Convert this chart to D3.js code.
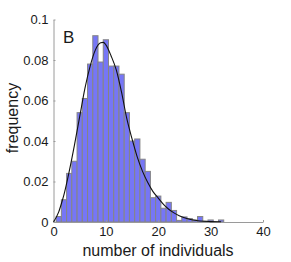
<!DOCTYPE html>
<html>
<head>
<meta charset="utf-8">
<script src="https://cdn.jsdelivr.net/npm/d3@7"></script>
<style>
  html, body { margin: 0; padding: 0; background: #fff; }
  svg text { font-family: "Liberation Sans", Arial, Helvetica, sans-serif; fill: #1a1a1a; }
</style>
</head>
<body>
<svg id="chart" width="291" height="262"></svg>
<script>
// histogram bins (centres) and frequencies
const binCenters = [1,2,3,4,5,6,7,8,9,10,11,12,13,14,15,16,17,18,19,20,21,22,23,24,25,26,27,28,29,30,31,32];
const frequencies = [0.0027,0.011,0.024,0.030,0.054,0.061,0.078,0.092,0.079,0.090,0.077,0.077,0.073,0.054,0.040,0.041,0.031,0.025,0.012,0.0128,0.0068,0.0097,0.0057,0.0008,0.0025,0.0017,0.001,0.0027,0.0004,0.001,0,0.001];
// fitted curve
const fitX = [0,1,1.5,2,3,4,5,6,7,8,9,9.5,10,11,12,13,14,15,16,17,18,19,20,21,22,23,24,25,26,27,28,30,32];
const fitY = [0,0.005,0.009,0.0135,0.025,0.038,0.052,0.066,0.077,0.085,0.0885,0.0887,0.0875,0.082,0.075,0.064,0.051,0.041,0.032,0.025,0.0195,0.015,0.0118,0.0087,0.0063,0.0045,0.0031,0.0021,0.0014,0.0009,0.0005,0.0002,0.0001];
const xTicks = [0,10,20,30,40];
const yTicks = [0,0.02,0.04,0.06,0.08,0.1];
const yTickLabels = ["0","0.02","0.04","0.06","0.08","0.1"];

const svg = d3.select("#chart");
const x = d3.scaleLinear().domain([0,40]).range([53.5,263]);
const y = d3.scaleLinear().domain([0,0.1]).range([222,19.5]);

// bars
const bins = binCenters.map((c,i)=>({c, v: frequencies[i]})).filter(d=>d.v>0);
svg.append("g").selectAll("rect").data(bins).join("rect")
  .attr("x", d=>x(d.c-0.5))
  .attr("width", d=>x(d.c+0.5)-x(d.c-0.5))
  .attr("y", d=>y(d.v))
  .attr("height", d=>y(0)-y(d.v))
  .attr("fill", "#7676f6")
  .attr("stroke", "#858585")
  .attr("stroke-width", 1);

// axes
const gx = svg.append("g").attr("transform", `translate(0,${y(0)})`)
  .call(d3.axisBottom(x).tickValues(xTicks).tickSizeInner(-2).tickSizeOuter(0).tickPadding(5).tickFormat(d3.format("d")));
const gy = svg.append("g").attr("transform", `translate(${x(0)},0)`)
  .call(d3.axisLeft(y).tickValues(yTicks).tickSizeInner(-2).tickSizeOuter(0).tickPadding(5).tickFormat((d,i)=>yTickLabels[i]));
[gx, gy].forEach(g=>{
  g.select(".domain").attr("stroke","#9a9a9a");
  g.selectAll(".tick line").attr("stroke","#9a9a9a");
  g.selectAll(".tick text").attr("font-size", 13).attr("fill","#1a1a1a")
    .style("font-family","'Liberation Sans', Arial, sans-serif");
});

// fitted curve
const pts = fitX.map((v,i)=>[v, fitY[i]]);
svg.append("path").datum(pts)
  .attr("fill","none").attr("stroke","#111").attr("stroke-width",1.1)
  .attr("d", d3.line().x(d=>x(d[0])).y(d=>y(d[1])).curve(d3.curveMonotoneX));

// panel letter
svg.append("text").attr("x", 63).attr("y", 42.5).attr("font-size", 17).text("B");

// axis titles
svg.append("text").attr("x", 158).attr("y", 256).attr("text-anchor","middle")
  .attr("font-size", 16).text("number of individuals");
svg.append("text").attr("transform", `translate(18,118) rotate(-90)`)
  .attr("text-anchor","middle").attr("font-size", 16).text("frequency");
</script>
</body>
</html>
